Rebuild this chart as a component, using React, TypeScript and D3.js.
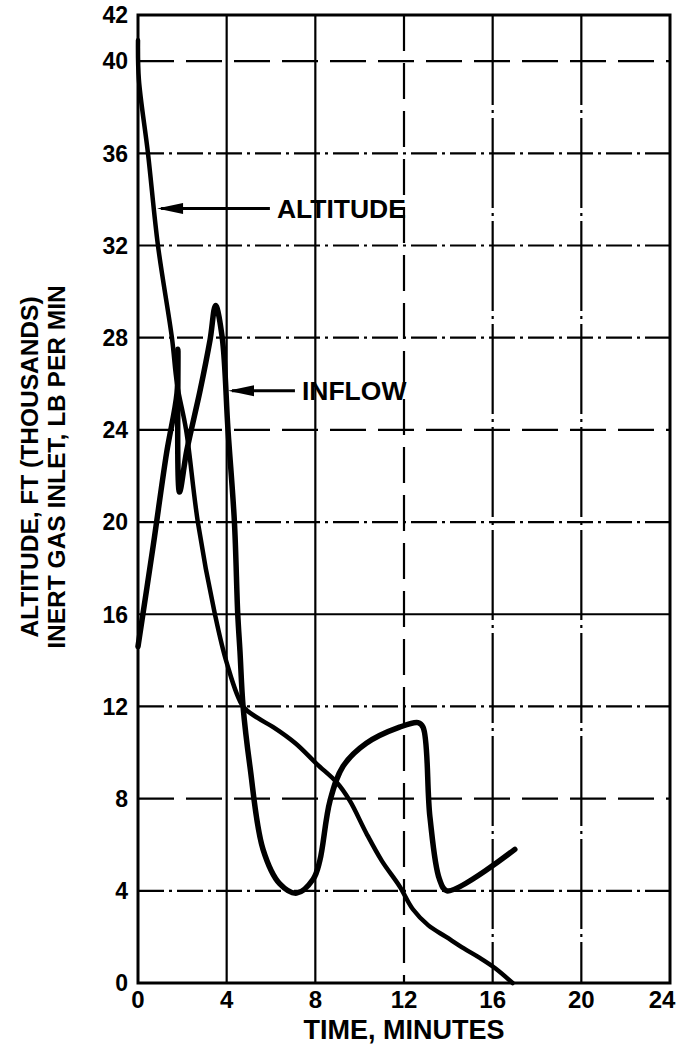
import React from "react";
import * as d3 from "d3";

// Axis ticks
const timeTicks = [0, 4, 8, 12, 16, 20, 24];
const valueTicks = [0, 4, 8, 12, 16, 20, 24, 28, 32, 36, 40, 42];

// Altitude, thousands of ft, against time in minutes
const altitudeTime = [0, 0.04, 0.45, 0.9, 1.53, 1.76, 2.17, 2.7, 3.47, 4.0, 4.74, 5.4, 6.1, 7.1, 8.07, 8.97, 9.56, 10.3, 11.0, 11.8, 12.4, 13.1, 13.9, 14.7, 15.4, 16.1, 16.9];
const altitudeValue = [40.9, 39.2, 36.0, 32.0, 28.0, 26.0, 24.0, 20.0, 16.0, 13.9, 12.0, 11.5, 11.1, 10.4, 9.5, 8.7, 7.9, 6.5, 5.3, 4.2, 3.2, 2.5, 2.0, 1.5, 1.1, 0.65, 0];

// Inert gas inflow, lb per min, against time in minutes
const inflowTime = [0, 0.69, 1.29, 1.76, 1.8, 1.87, 2.2, 2.8, 3.25, 3.5, 3.8, 4.06, 4.35, 4.5, 4.6, 4.74, 5.05, 5.64, 6.4, 7.16, 7.9, 8.2, 8.66, 9.25, 10.3, 11.8, 12.63, 12.86, 13.17, 13.6, 13.94, 17.0];
const inflowValue = [14.6, 19.0, 23.0, 25.6, 27.5, 21.3, 23.1, 25.7, 27.9, 29.4, 28.0, 24.0, 20.0, 16.0, 14.4, 12.0, 9.4, 5.8, 4.3, 3.9, 4.5, 5.3, 7.9, 9.4, 10.4, 11.1, 11.3, 11.1, 7.2, 4.5, 4.0, 5.8];

// Callout labels with arrows pointing at each curve
const calloutNames = ["ALTITUDE", "INFLOW"];
const calloutTipTime = [0.86, 4.06];
const calloutTipValue = [33.6, 25.7];
const calloutEndTime = [5.95, 7.08];

const FONT = "'Liberation Sans', Arial, Helvetica, sans-serif";
const DASH_DOT = "26 5 3 5";
const DASH = "36 12";
const LONG = "90 5 3 5";

const hGridDash: Record<number, string | undefined> = {
  4: DASH_DOT, 8: DASH, 12: DASH_DOT, 16: undefined, 20: DASH_DOT,
  24: DASH, 28: DASH_DOT, 32: DASH_DOT, 36: DASH_DOT, 40: DASH,
};
const vGridDash: Record<number, string | undefined> = {
  4: undefined, 8: undefined, 12: DASH, 16: LONG, 20: LONG,
};

export default function App() {
  const W = 677;
  const H = 1050;
  const x = d3.scaleLinear().domain([0, 24]).range([138, 670]);
  const y = d3.scaleLinear().domain([0, 42]).range([983, 15]);

  const line = d3
    .line<[number, number]>()
    .x((d) => x(d[0]))
    .y((d) => y(d[1]))
    .curve(d3.curveCatmullRom.alpha(0.5));

  const altitude = altitudeTime.map((t, i) => [t, altitudeValue[i]] as [number, number]);
  const inflow = inflowTime.map((t, i) => [t, inflowValue[i]] as [number, number]);

  const [x0, x1] = x.range();
  const [y0, y1] = y.range();

  return (
    <svg
      width={W}
      height={H}
      style={{ position: "absolute", left: 0, top: 0, background: "#fff" }}
      fontFamily={FONT}
      fontWeight="bold"
    >
      {/* grid */}
      {valueTicks
        .filter((v) => v > 0 && v < 42)
        .map((v) => (
          <line
            key={"h" + v}
            x1={x0}
            x2={x1}
            y1={y(v)}
            y2={y(v)}
            stroke="#000"
            strokeWidth={2.2}
            strokeDasharray={hGridDash[v]}
          />
        ))}
      {timeTicks
        .filter((t) => t > 0 && t < 24)
        .map((t) => (
          <line
            key={"v" + t}
            x1={x(t)}
            x2={x(t)}
            y1={y1}
            y2={y0}
            stroke="#000"
            strokeWidth={2.2}
            strokeDasharray={vGridDash[t]}
          />
        ))}

      {/* frame */}
      <rect x={x0} y={y1} width={x1 - x0} height={y0 - y1} fill="none" stroke="#000" strokeWidth={3} />

      {/* curves */}
      <path d={line(altitude) ?? ""} fill="none" stroke="#000" strokeWidth={4.5} strokeLinejoin="round" strokeLinecap="round" />
      <path d={line(inflow) ?? ""} fill="none" stroke="#000" strokeWidth={5.5} strokeLinejoin="round" strokeLinecap="round" />

      {/* callouts */}
      {calloutNames.map((name, i) => {
        const tx = x(calloutTipTime[i]);
        const ty = y(calloutTipValue[i]);
        const ex = x(calloutEndTime[i]);
        return (
          <g key={name}>
            <line x1={tx + 4} x2={ex} y1={ty} y2={ty} stroke="#000" strokeWidth={3} />
            <polygon points={`${tx},${ty} ${tx + 26},${ty - 5.5} ${tx + 26},${ty + 5.5}`} fill="#000" />
            <text x={ex + 7} y={ty} dy="0.35em" fontSize={26.5}>
              {name}
            </text>
          </g>
        );
      })}

      {/* value axis labels */}
      {valueTicks.map((v) => (
        <text key={"yl" + v} x={128} y={y(v)} dy="0.36em" fontSize={23} textAnchor="end">
          {v}
        </text>
      ))}

      {/* time axis labels */}
      {timeTicks.map((t) => (
        <text key={"xl" + t} x={Math.min(x(t), W - 15)} y={1008} fontSize={24} textAnchor="middle">
          {t}
        </text>
      ))}
      <text x={(x0 + x1) / 2} y={1039} fontSize={27} textAnchor="middle">
        TIME, MINUTES
      </text>

      {/* value axis title */}
      <g transform="translate(0,467)">
        <text transform="translate(38,0) rotate(-90)" fontSize={24.5} textAnchor="middle">
          ALTITUDE, FT (THOUSANDS)
        </text>
        <text transform="translate(65,0) rotate(-90)" fontSize={24.5} textAnchor="middle">
          INERT GAS INLET, LB PER MIN
        </text>
      </g>
    </svg>
  );
}
